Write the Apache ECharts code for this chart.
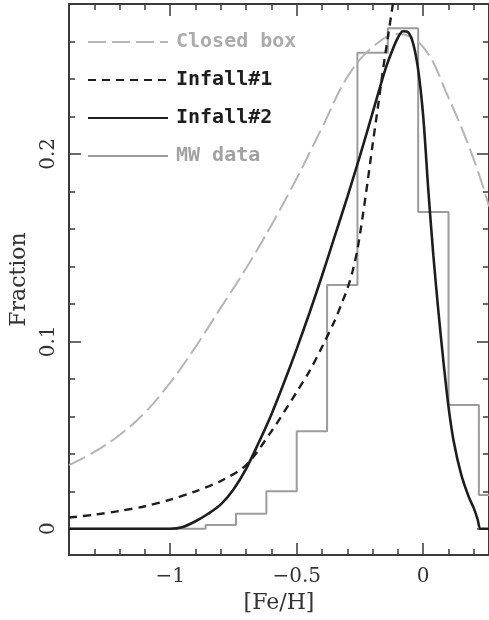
<!DOCTYPE html>
<html>
<head>
<meta charset="utf-8">
<script src="https://cdn.jsdelivr.net/npm/echarts@6/dist/echarts.min.js"></script>
<style>
html,body{margin:0;padding:0;background:#fff;}
#chart{width:489px;height:620px;}
</style>
</head>
<body>
<div id="chart"></div>
<script>
// ---- axis ranges & ticks ----
const xMin = -1.4, xMax = 0.26;
const yMin = -0.014, yMax = 0.28;
const xMajorTicks = [-1, -0.5, 0];
const xMinorTicks = [-1.3, -1.2, -1.1, -0.9, -0.8, -0.7, -0.6, -0.4, -0.3, -0.2, -0.1, 0.1, 0.2];
const yMajorTicks = [0, 0.1, 0.2];
const yMinorTicks = [0.02, 0.04, 0.06, 0.08, 0.12, 0.14, 0.16, 0.18, 0.22, 0.24, 0.26];

// ---- Closed box model ----
const closedBoxFeH = [-1.4, -1.3, -1.2, -1.1, -1.0, -0.9, -0.8, -0.7, -0.6, -0.5, -0.4, -0.3, -0.2, -0.1, 0.0, 0.1, 0.2, 0.26];
const closedBoxFrac = [0.034, 0.041, 0.050, 0.062, 0.078, 0.097, 0.118, 0.139, 0.162, 0.187, 0.214, 0.241, 0.257, 0.264, 0.257, 0.230, 0.197, 0.172];

// ---- Infall#1 model ----
const infall1FeH = [-1.4, -1.3, -1.2, -1.1, -1.0, -0.9, -0.8, -0.7, -0.6, -0.5, -0.45, -0.4, -0.35, -0.32, -0.3, -0.28, -0.26, -0.24, -0.22, -0.2, -0.18, -0.16, -0.14, -0.12, -0.10];
const infall1Frac = [0.006, 0.0075, 0.0095, 0.012, 0.0155, 0.020, 0.0255, 0.034, 0.052, 0.073, 0.084, 0.097, 0.111, 0.121, 0.128, 0.137, 0.149, 0.166, 0.185, 0.205, 0.224, 0.244, 0.262, 0.280, 0.300];

// ---- Infall#2 model ----
const infall2FeH = [-1.4, -1.2, -1.0, -0.95, -0.9, -0.85, -0.8, -0.75, -0.7, -0.65, -0.6, -0.55, -0.5, -0.45, -0.4, -0.35, -0.3, -0.25, -0.2, -0.15, -0.12, -0.1, -0.08, -0.06, -0.04, -0.02, 0.0, 0.02, 0.04, 0.06, 0.08, 0.1, 0.12, 0.15, 0.18, 0.2, 0.215, 0.227, 0.26];
const infall2Frac = [0, 0, 0, 0.001, 0.004, 0.008, 0.013, 0.021, 0.032, 0.046, 0.061, 0.078, 0.096, 0.115, 0.135, 0.156, 0.177, 0.199, 0.222, 0.245, 0.256, 0.262, 0.2655, 0.265, 0.259, 0.245, 0.220, 0.181, 0.146, 0.116, 0.089, 0.065, 0.047, 0.029, 0.017, 0.011, 0.005, 0, 0];

// ---- MW data histogram ----
const mwBinEdges = [-1.4, -0.86, -0.74, -0.62, -0.50, -0.38, -0.26, -0.14, -0.02, 0.10, 0.22, 0.34];
const mwFrac = [0, 0.002, 0.008, 0.020, 0.052, 0.130, 0.254, 0.267, 0.169, 0.066, 0.018];

const names = ['Closed box', 'Infall#1', 'Infall#2', 'MW data'];

function pairs(xs, ys) { return xs.map((x, i) => [x, ys[i]]); }
const mwData = mwBinEdges.map((e, i) => [e, mwFrac[Math.min(i, mwFrac.length - 1)]]);

const frameColor = '#3a3a3a';
const serif = 'DejaVu Serif';

function xAx(pos, ticks, len, showLine, showLabel) {
  return {
    type: 'value', gridIndex: 0, position: pos, min: xMin, max: xMax,
    axisLine: { show: showLine, onZero: false, lineStyle: { color: frameColor, width: 2 } },
    axisTick: { show: true, inside: true, length: len, customValues: ticks, lineStyle: { color: frameColor, width: 1.5 } },
    axisLabel: showLabel ? {
      show: true, customValues: ticks, margin: 12, color: '#333', fontFamily: serif, fontSize: 20,
      formatter: v => String(v).replace('-', '\u2212')
    } : { show: false },
    splitLine: { show: false }
  };
}
function yAx(pos, ticks, len, showLine, showLabel) {
  return {
    type: 'value', gridIndex: 0, position: pos, min: yMin, max: yMax,
    axisLine: { show: showLine, onZero: false, lineStyle: { color: frameColor, width: 2 } },
    axisTick: { show: true, inside: true, length: len, customValues: ticks, lineStyle: { color: frameColor, width: 1.5 } },
    axisLabel: showLabel ? {
      show: true, customValues: ticks, margin: 10, rotate: 90, color: '#333', fontFamily: serif, fontSize: 20
    } : { show: false },
    splitLine: { show: false }
  };
}

const xAxes = [
  Object.assign(xAx('bottom', xMajorTicks, 12, true, true), {
    name: '[Fe/H]', nameLocation: 'middle', nameGap: 35,
    nameTextStyle: { fontFamily: serif, fontSize: 22, color: '#333' }
  }),
  xAx('bottom', xMinorTicks, 6, false, false),
  xAx('top', xMajorTicks, 12, true, false),
  xAx('top', xMinorTicks, 6, false, false)
];
const yAxes = [
  Object.assign(yAx('left', yMajorTicks, 12, true, true), {
    name: 'Fraction', nameLocation: 'middle', nameGap: 39, nameRotate: 90,
    nameTextStyle: { fontFamily: serif, fontSize: 22, color: '#333' }
  }),
  yAx('left', yMinorTicks, 6, false, false),
  yAx('right', yMajorTicks, 12, true, false),
  yAx('right', yMinorTicks, 6, false, false)
];

const chart = echarts.init(document.getElementById('chart'), null, { renderer: 'canvas' });
chart.setOption({
  animation: false,
  backgroundColor: '#ffffff',
  grid: { left: 64, top: 4, width: 426, height: 551, containLabel: false },
  xAxis: xAxes,
  yAxis: yAxes,
  legend: {
    orient: 'vertical', left: 87, top: 32, padding: 0,
    itemWidth: 80, itemHeight: 14, itemGap: 18,
    itemStyle: { color: 'rgba(0,0,0,0)', borderWidth: 0, opacity: 0 },
    textStyle: { fontFamily: 'DejaVu Sans Mono', fontWeight: 'bold', fontSize: 20, lineHeight: 20, padding: [0, 0, 0, 3] },
    data: [
      { name: names[0], textStyle: { color: '#ababab' } },
      { name: names[1], textStyle: { color: '#1e1e1e' } },
      { name: names[2], textStyle: { color: '#1e1e1e' } },
      { name: names[3], textStyle: { color: '#a2a2a2' } }
    ]
  },
  series: [
    {
      name: names[3], type: 'line', step: 'end', xAxisIndex: 0, yAxisIndex: 0,
      data: mwData, showSymbol: false, symbol: 'none',
      lineStyle: { color: '#9c9c9c', width: 2 }, itemStyle: { color: '#9c9c9c' }
    },
    {
      name: names[0], type: 'line', smooth: 0.4, xAxisIndex: 0, yAxisIndex: 0,
      data: pairs(closedBoxFeH, closedBoxFrac), showSymbol: false, symbol: 'none',
      lineStyle: { color: '#b5b5b5', width: 2, type: [18, 6] }, itemStyle: { color: '#b5b5b5' }
    },
    {
      name: names[1], type: 'line', smooth: 0.3, xAxisIndex: 0, yAxisIndex: 0,
      data: pairs(infall1FeH, infall1Frac), showSymbol: false, symbol: 'none',
      lineStyle: { color: '#1e1e1e', width: 2.4, type: [8, 6] }, itemStyle: { color: '#1e1e1e' }
    },
    {
      name: names[2], type: 'line', smooth: 0.3, xAxisIndex: 0, yAxisIndex: 0,
      data: pairs(infall2FeH, infall2Frac), showSymbol: false, symbol: 'none',
      lineStyle: { color: '#1e1e1e', width: 2.6 }, itemStyle: { color: '#1e1e1e' }
    }
  ]
});
</script>
</body>
</html>
